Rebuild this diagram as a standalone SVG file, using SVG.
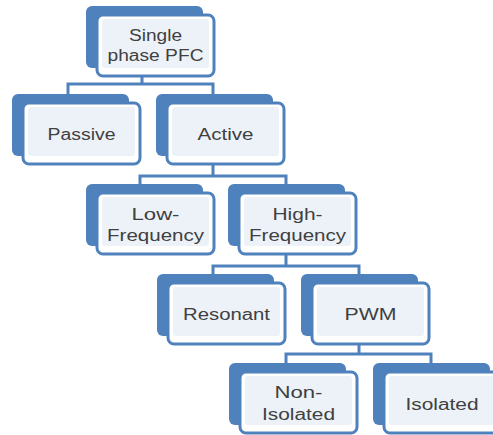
<svg xmlns="http://www.w3.org/2000/svg" width="493" height="435" viewBox="0 0 493 435">
<style>
.back{fill:#4f81bd;}
.front{fill:#ffffff;stroke:#4f81bd;stroke-width:3;}
.inner{fill:#edf2f9;}
.lbl{font-family:"Liberation Sans",Arial,sans-serif;font-size:16px;fill:#404040;text-anchor:middle;}
.conn{fill:none;stroke:#4f81bd;stroke-width:3;}
</style>
<rect width="493" height="435" fill="#ffffff"/>
<g id="connectors">
<path class="conn" d="M142,76 V84 M68,95 V84 H213 V95"/>
<path class="conn" d="M213,164 V176 M140,185 V176 H286 V185"/>
<path class="conn" d="M286,254 V266 M213,275 V266 H359 V275"/>
<path class="conn" d="M359,344 V354 M286,364 V354 H431 V364"/>
</g>
<g id="single">
<rect class="back" x="86" y="6" width="117" height="62" rx="6"/>
<rect class="front" x="97" y="15" width="117" height="61" rx="6"/>
<rect class="inner" x="102" y="19" width="107" height="49" rx="3"/>
<text class="lbl" x="155.5" y="41" textLength="53" lengthAdjust="spacingAndGlyphs">Single</text>
<text class="lbl" x="155.5" y="61" textLength="96" lengthAdjust="spacingAndGlyphs">phase PFC</text>
</g>
<g id="passive">
<rect class="back" x="12" y="94" width="117" height="62" rx="6"/>
<rect class="front" x="23" y="103" width="117" height="61" rx="6"/>
<rect class="inner" x="28" y="107" width="107" height="49" rx="3"/>
<text class="lbl" x="81.5" y="140" textLength="68" lengthAdjust="spacingAndGlyphs">Passive</text>
</g>
<g id="active">
<rect class="back" x="156" y="94" width="117" height="62" rx="6"/>
<rect class="front" x="167" y="103" width="117" height="61" rx="6"/>
<rect class="inner" x="172" y="107" width="107" height="49" rx="3"/>
<text class="lbl" x="225.5" y="140" textLength="56" lengthAdjust="spacingAndGlyphs">Active</text>
</g>
<g id="low-frequency">
<rect class="back" x="86" y="184" width="117" height="62" rx="6"/>
<rect class="front" x="97" y="193" width="117" height="61" rx="6"/>
<rect class="inner" x="102" y="197" width="107" height="49" rx="3"/>
<text class="lbl" x="155.5" y="220" textLength="48" lengthAdjust="spacingAndGlyphs">Low-</text>
<text class="lbl" x="155.5" y="241" textLength="97" lengthAdjust="spacingAndGlyphs">Frequency</text>
</g>
<g id="high-frequency">
<rect class="back" x="228" y="184" width="117" height="62" rx="6"/>
<rect class="front" x="239" y="193" width="117" height="61" rx="6"/>
<rect class="inner" x="244" y="197" width="107" height="49" rx="3"/>
<text class="lbl" x="297.5" y="220" textLength="50" lengthAdjust="spacingAndGlyphs">High-</text>
<text class="lbl" x="297.5" y="241" textLength="97" lengthAdjust="spacingAndGlyphs">Frequency</text>
</g>
<g id="resonant">
<rect class="back" x="157" y="274" width="117" height="62" rx="6"/>
<rect class="front" x="168" y="283" width="117" height="61" rx="6"/>
<rect class="inner" x="173" y="287" width="107" height="49" rx="3"/>
<text class="lbl" x="226.5" y="320" textLength="87" lengthAdjust="spacingAndGlyphs">Resonant</text>
</g>
<g id="pwm">
<rect class="back" x="301" y="274" width="117" height="62" rx="6"/>
<rect class="front" x="312" y="283" width="117" height="61" rx="6"/>
<rect class="inner" x="317" y="287" width="107" height="49" rx="3"/>
<text class="lbl" x="370.5" y="320" textLength="52" lengthAdjust="spacingAndGlyphs">PWM</text>
</g>
<g id="non-isolated">
<rect class="back" x="229" y="363" width="117" height="62" rx="6"/>
<rect class="front" x="240" y="372" width="117" height="61" rx="6"/>
<rect class="inner" x="245" y="376" width="107" height="49" rx="3"/>
<text class="lbl" x="298.5" y="398" textLength="48" lengthAdjust="spacingAndGlyphs">Non-</text>
<text class="lbl" x="298.5" y="420" textLength="73" lengthAdjust="spacingAndGlyphs">Isolated</text>
</g>
<g id="isolated">
<rect class="back" x="373" y="363" width="117" height="62" rx="6"/>
<rect class="front" x="384" y="372" width="117" height="61" rx="6"/>
<rect class="inner" x="389" y="376" width="107" height="49" rx="3"/>
<text class="lbl" x="442" y="410" textLength="73" lengthAdjust="spacingAndGlyphs">Isolated</text>
</g>
</svg>
